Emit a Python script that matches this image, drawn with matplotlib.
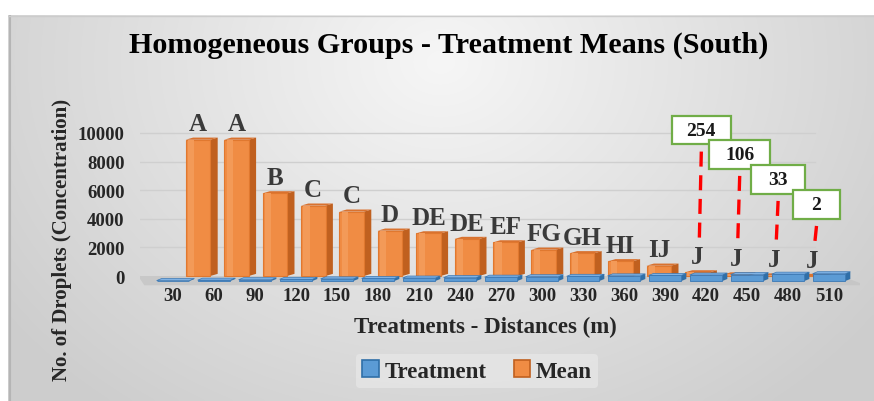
import matplotlib as mpl
mpl.use('Agg')
from matplotlib import pyplot as plt
from matplotlib.patches import Polygon, Rectangle, Patch
import numpy as np

plt.rcParams['font.family'] = ['Liberation Serif', 'DejaVu Serif']
plt.rcParams['font.weight'] = 'bold'

# data
distances = [30, 60, 90, 120, 150, 180, 210, 240, 270, 300, 330, 360, 390, 420, 450, 480, 510]
treatment = distances
means = [9530, 9530, 5780, 4920, 4500, 3170, 2980, 2590, 2350, 1840, 1590, 1030, 720, 254, 106, 33, 2]
groups = ['A', 'A', 'B', 'C', 'C', 'D', 'DE', 'DE', 'EF', 'FG', 'GH', 'HI', 'IJ', 'J', 'J', 'J', 'J']
callout_idx = [13, 14, 15, 16]
callout_txt = ['254', '106', '33', '2']
yticks = [0, 2000, 4000, 6000, 8000, 10000]

# layout (3d-ish look)
callout_y = [10200, 8500, 6750, 5000]
callout_w = [1.45, 1.5, 1.3, 1.15]

W, H = 874, 402
fig = plt.figure(figsize=(W / 100, H / 100), dpi=100)
fig.patch.set_facecolor('white')

# gradient panel behind everything
bg = fig.add_axes([8 / W, 0, 1 - 8 / W, (H - 16) / H], zorder=-10)
gx, gy = np.meshgrid(np.linspace(0, 1, 300), np.linspace(0, 1, 150))
r = np.sqrt(((gx - 0.5) / 0.55) ** 2 + ((gy - 0.12) / 1.0) ** 2)
g = 0.965 - 0.14 * np.clip(r, 0, 1.15)
bg.imshow(np.dstack([g, g, g]), aspect='auto', extent=[0, 1, 1, 0], interpolation='bicubic')
bg.set_xlim(0, 1)
bg.set_ylim(1, 0)
bg.axis('off')
bg.plot([0.002, 0.002], [0, 1], color='#b5b5b5', lw=1.5)
bg.plot([0, 1], [0.003, 0.003], color='#cccccc', lw=1)

# main axes: 0 at px 277, 14.3 px per 1000
y_bot = (277 - 287) / 14.3 * 1000
y_top = (277 - 110) / 14.3 * 1000
x_l = (140 - 173) / 41.0
x_r = (860 - 173) / 41.0
ax = fig.add_axes([140 / W, (H - 287) / H, 720 / W, 177 / H])
ax.set_xlim(x_l, x_r)
ax.set_ylim(y_bot, y_top)
ax.patch.set_alpha(0)
for s in ax.spines.values():
    s.set_visible(False)

n = len(distances)
xb = np.arange(n)                      # front (blue) row
xo = 0.61 + (38.4 / 41.0) * np.arange(n)  # back (orange) row, perspective

# gridlines on back wall
for t in yticks[1:]:
    ax.plot([-0.85, 15.66], [t, t], color='#cfcfcf', lw=1, zorder=1)

# floor
ax.add_patch(Polygon([[-0.85, 0], [16.3, 0], [16.9, -650], [-0.7, -650]],
                     closed=True, fc='#c3c3c3', ec='none', alpha=0.75, zorder=1))

# orange (Mean) bars
wo, dx, dy = 0.6, 0.18, 150
for x, m in zip(xo, means):
    l, rr = x - wo / 2, x + wo / 2
    ax.add_patch(Polygon([[rr, 0], [rr + dx, dy], [rr + dx, m + dy], [rr, m]],
                         fc='#c0601f', ec='none', zorder=2))
    ax.add_patch(Polygon([[l, m], [l + dx, m + dy], [rr + dx, m + dy], [rr, m]],
                         fc='#d9722f', ec='none', zorder=2))
    ax.add_patch(Rectangle((l, 0), wo, m, fc='#f08c44', ec='#e0782f', lw=0.8, zorder=2))
    ax.add_patch(Rectangle((l + wo * 0.1, 0), wo * 0.25, m, fc='#f39a58', ec='none', zorder=2))

# blue (Treatment) slabs in front
wb, base = 0.8, -350
for x, t in zip(xb, treatment):
    l, rr = x - wb / 2, x + wb / 2
    ax.add_patch(Polygon([[l, base + t], [l + 0.12, base + t + 140], [rr + 0.12, base + t + 140], [rr, base + t]],
                         fc='#7fb2e5', ec='#3a78b5', lw=0.5, zorder=3))
    ax.add_patch(Polygon([[rr, base], [rr + 0.12, base + 140], [rr + 0.12, base + t + 140], [rr, base + t]],
                         fc='#2f6fa8', ec='none', zorder=3))
    ax.add_patch(Rectangle((l, base), wb, t, fc='#5b9bd5', ec='#3a78b5', lw=0.6, zorder=3))

# group letters
for x, m, gname in zip(xo, means, groups):
    ax.text(x, m + 1100, gname, ha='center', va='center', fontsize=18,
            fontweight='bold', color='#3a3a3a', zorder=5)

# callouts with red dashed leaders
for k, i in enumerate(callout_idx):
    cx = xo[i] + 0.1
    cy = callout_y[k]
    w, h = callout_w[k], 2000
    ax.add_patch(Rectangle((cx - w / 2, cy - h / 2), w, h, fc='white', ec='#70ad47',
                           lw=1.6, zorder=6, clip_on=False))
    ax.text(cx, cy, callout_txt[k], ha='center', va='center', fontsize=14,
            fontweight='bold', color='#1a1a1a', zorder=7)
    ax.plot([cx, cx - 0.05], [cy - h / 2 - 500, means[i] + 2100], color='red',
            lw=2.4, ls=(0, (4.5, 2.6)), zorder=5, solid_capstyle='butt')

ax.set_xticks(xb)
ax.set_xticklabels([str(d) for d in distances])
ax.set_yticks(yticks)
ax.set_yticklabels([str(t) for t in yticks])
ax.tick_params(axis='both', length=0, labelsize=13.5, colors='#262626')
ax.tick_params(axis='x', pad=1)
ax.tick_params(axis='y', pad=11)
for lab in ax.get_xticklabels() + ax.get_yticklabels():
    lab.set_fontweight('bold')

fig.text(449 / W, 1 - 45 / H, 'Homogeneous Groups - Treatment Means (South)',
         ha='center', va='center', fontsize=21.7, fontweight='bold', color='black')
fig.text(62 / W, 1 - 240 / H, 'No. of Droplets (Concentration)', rotation=90,
         ha='center', va='center', fontsize=15, fontweight='bold', color='#262626')
fig.text(485 / W, 1 - 327 / H, 'Treatments - Distances (m)',
         ha='center', va='center', fontsize=16.5, fontweight='bold', color='#262626')

handles = [Patch(fc='#5b9bd5', ec='#2f6fa8', lw=1.2), Patch(fc='#f08c44', ec='#c0601f', lw=1.2)]
leg = fig.legend(handles, ['Treatment', 'Mean'], loc='center', ncol=2,
                 bbox_to_anchor=(477 / W, 1 - 372 / H), frameon=True, fontsize=16.5,
                 handlelength=0.7, handleheight=0.7, handletextpad=0.25, columnspacing=1.2,
                 borderpad=0.3)
leg.get_frame().set_facecolor('#e6e6e6')
leg.get_frame().set_edgecolor('none')
leg.get_frame().set_alpha(0.8)
for t in leg.get_texts():
    t.set_fontweight('bold')
    t.set_color('#262626')

plt.savefig('out.png', dpi=100)
plt.close()
